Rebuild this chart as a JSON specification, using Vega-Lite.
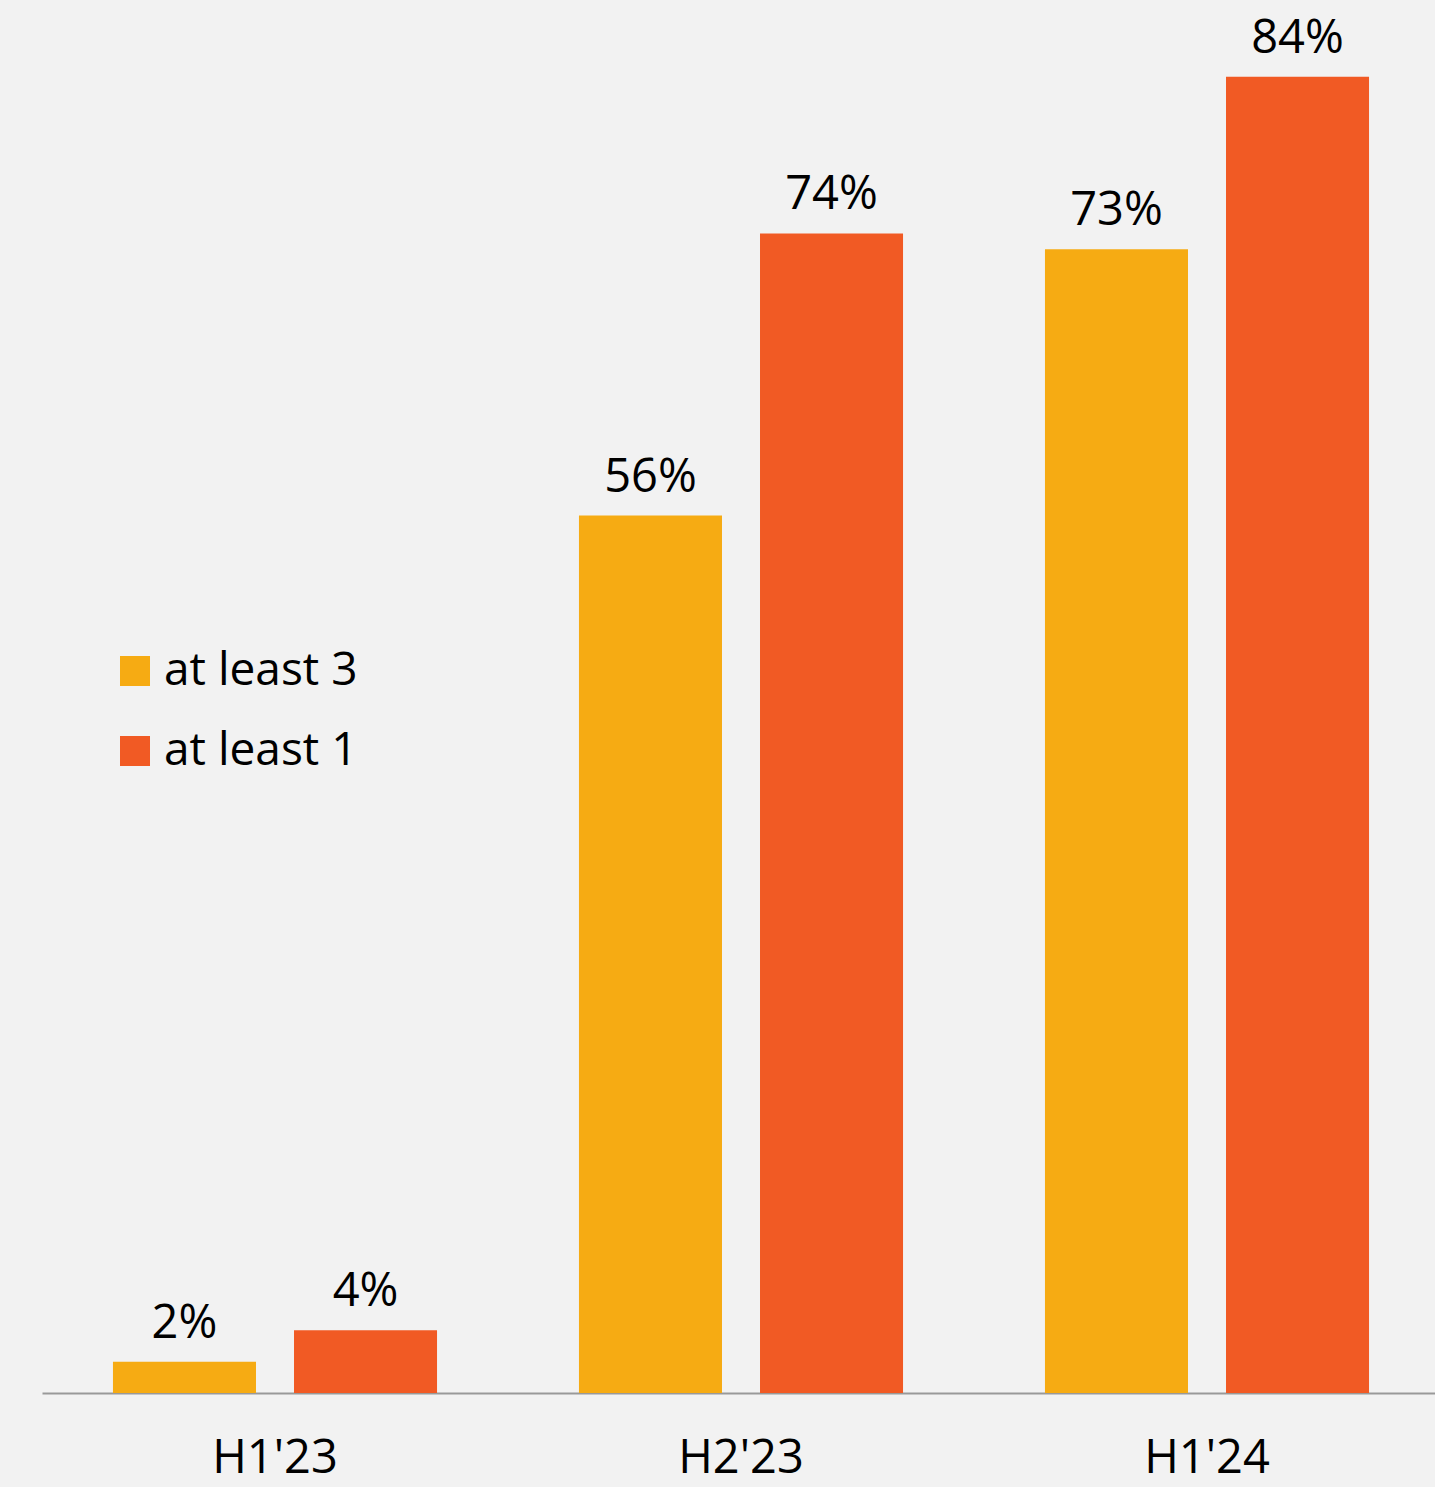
{
  "$schema": "https://vega.github.io/schema/vega-lite/v6.json",
  "autosize": {"type": "none"},
  "width": 1393,
  "height": 1393,
  "padding": {"left": 42, "top": 0, "right": 0, "bottom": 94},
  "background": "#F2F2F2",
  "config": {
    "view": {"stroke": null},
    "font": "Open Sans"
  },
  "data": {
    "values": [
      {"period": "H1'23", "series": "at least 3", "value": 0.02},
      {"period": "H1'23", "series": "at least 1", "value": 0.04},
      {"period": "H2'23", "series": "at least 3", "value": 0.56},
      {"period": "H2'23", "series": "at least 1", "value": 0.74},
      {"period": "H1'24", "series": "at least 3", "value": 0.73},
      {"period": "H1'24", "series": "at least 1", "value": 0.84}
    ]
  },
  "encoding": {
    "x": {
      "field": "period",
      "type": "nominal",
      "sort": ["H1'23", "H2'23", "H1'24"],
      "scale": {"paddingInner": 0, "paddingOuter": 0, "range": [0, 1398]},
      "axis": {
        "title": null,
        "labelAngle": 0,
        "ticks": false,
        "domainColor": "#999999",
        "domainWidth": 2,
        "labelFontSize": 47,
        "labelColor": "#000000",
        "labelPadding": 42,
        "labelFont": "Open Sans"
      }
    },
    "xOffset": {
      "field": "series",
      "type": "nominal",
      "sort": ["at least 3", "at least 1"],
      "scale": {"paddingInner": 0.21, "paddingOuter": 0.392}
    },
    "y": {
      "field": "value",
      "type": "quantitative",
      "scale": {"domain": [0, 0.889], "nice": false, "zero": true},
      "axis": null
    }
  },
  "layer": [
    {
      "mark": {"type": "bar"},
      "encoding": {
        "color": {
          "field": "series",
          "type": "nominal",
          "sort": ["at least 3", "at least 1"],
          "scale": {"domain": ["at least 3", "at least 1"], "range": ["#F6AB13", "#F15A24"]},
          "legend": {
            "title": null,
            "orient": "none",
            "legendX": 70,
            "legendY": 648,
            "padding": 0,
            "symbolType": "square",
            "symbolSize": 900,
            "symbolStrokeWidth": 0,
            "labelFontSize": 46,
            "labelColor": "#000000",
            "labelFont": "Open Sans",
            "labelOffset": 6,
            "labelLimit": 400,
            "rowPadding": 34
          }
        }
      }
    },
    {
      "mark": {"type": "text", "baseline": "alphabetic", "dy": -24, "fontSize": 47, "color": "#000000", "font": "Open Sans"},
      "encoding": {
        "text": {"field": "value", "type": "quantitative", "format": ".0%"}
      }
    }
  ]
}
